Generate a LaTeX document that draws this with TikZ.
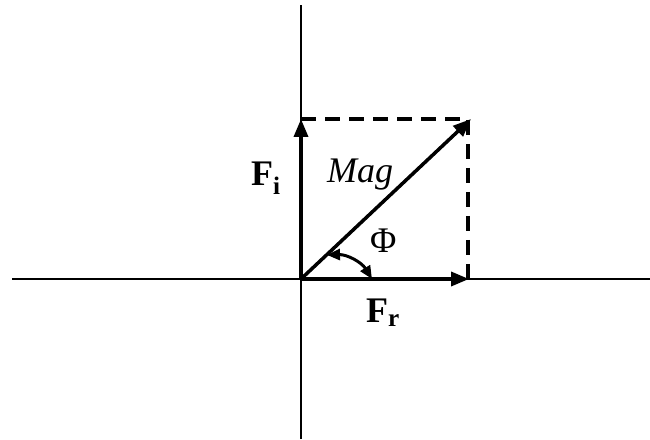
\documentclass[tikz,border=0pt]{standalone}
\usepackage{fontspec}
\setmainfont{Liberation Serif}
\usetikzlibrary{arrows.meta}
\begin{document}
\begin{tikzpicture}[x=1pt,y=1pt,
  axis/.style={line width=1.8pt},
  vec/.style={line width=3.5pt,-{Triangle[length=18pt,width=14pt]}},
  dashline/.style={line width=3.5pt,dash pattern=on 15pt off 9pt},
  lbl/.style={font=\fontsize{36}{38}\selectfont, inner sep=0pt, anchor=base west}]
\useasboundingbox (0,0) rectangle (650,439);
\coordinate (O) at (301,160);
\coordinate (L) at (12,160);
\coordinate (R) at (650,160);
\coordinate (T) at (301,434);
\coordinate (B) at (301,0);
\coordinate (Fi) at (301,320);
\coordinate (Fr) at (469,160);
\coordinate (C) at (471,320);
\coordinate (A1) at (327,184);
\coordinate (A2) at (372,160);
\draw[axis] (L) -- (R);
\draw[axis] (B) -- (T);
\draw[dashline] (Fi) -- (468,320) -- (468,161);
\draw[vec] (O) -- (Fi);
\draw[vec] (O) -- (Fr);
\draw[vec] (O) -- (C);
\draw[line width=3pt,{Triangle[length=13pt,width=11pt]}-{Triangle[length=13pt,width=11pt]}] (A1) to[bend left=30] (A2);
\node[lbl] (fi) at (251,253) {\textbf{F\textsubscript{i}}};
\node[lbl] (mag) at (327,256) {\textit{Mag}};
\node[lbl] (phi) at (370,186) {Φ};
\node[lbl] (fr) at (366,116) {\textbf{F\textsubscript{r}}};
\end{tikzpicture}
\end{document}
